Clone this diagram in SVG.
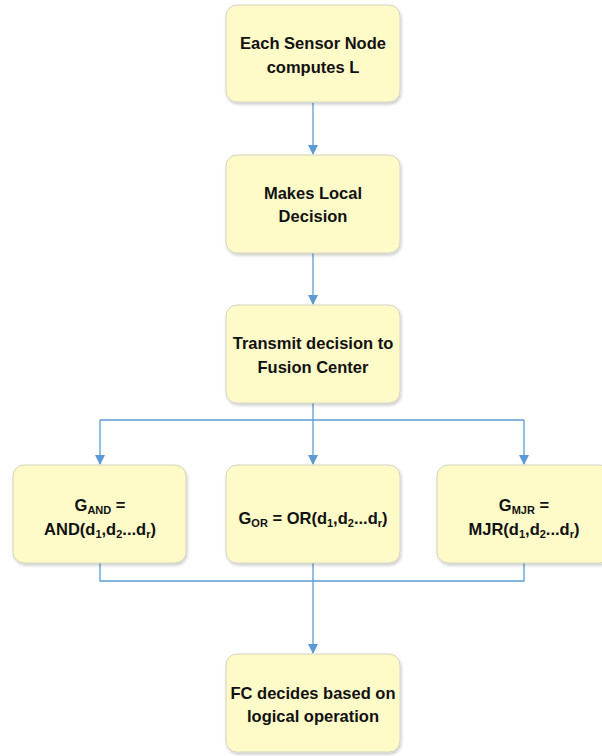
<svg xmlns="http://www.w3.org/2000/svg" width="602" height="756" viewBox="0 0 602 756">
<style>
.box{fill:#FFFBC9;stroke:#D4D2C0;stroke-width:1;filter:url(#sh)}
.t{font-family:"Liberation Sans",Arial,sans-serif;font-weight:bold;font-size:16.5px;fill:#111;text-anchor:middle}
.sub{font-size:11px}
.c{fill:none;stroke:#5B9BD5;stroke-width:1.3}
</style>
<defs>
<filter id="sh" x="-10%" y="-10%" width="130%" height="130%">
<feDropShadow dx="1" dy="2" stdDeviation="1.5" flood-color="#000" flood-opacity="0.2"/>
</filter>
<marker id="a" markerWidth="10" markerHeight="10" refX="9" refY="5" orient="auto" markerUnits="userSpaceOnUse" viewBox="0 0 10 10">
<path d="M0,0 L10,5 L0,10 Z" fill="#5B9BD5"/>
</marker>
</defs>
<rect width="602" height="756" fill="#fff"/>
<g id="connectors">
<path class="c" d="M313,103 V154" marker-end="url(#a)"/>
<path class="c" d="M313,253 V304" marker-end="url(#a)"/>
<path class="c" d="M313,403 V464" marker-end="url(#a)"/>
<path class="c" d="M100,420 H524"/>
<path class="c" d="M100,420 V464" marker-end="url(#a)"/>
<path class="c" d="M524,420 V464" marker-end="url(#a)"/>
<path class="c" d="M100,563 V581 H524 V563"/>
<path class="c" d="M313,563 V653" marker-end="url(#a)"/>
</g>
<g id="n1">
<rect class="box" x="226" y="5" width="174" height="97" rx="11"/>
<text class="t" x="313" y="49">Each Sensor Node</text>
<text class="t" x="313" y="73">computes L</text>
</g>
<g id="n2">
<rect class="box" x="226" y="155" width="174" height="98" rx="11"/>
<text class="t" x="313" y="199">Makes Local</text>
<text class="t" x="313" y="222">Decision</text>
</g>
<g id="n3">
<rect class="box" x="226" y="305" width="174" height="98" rx="11"/>
<text class="t" x="313" y="349">Transmit decision to</text>
<text class="t" x="313" y="373">Fusion Center</text>
</g>
<g id="n4">
<rect class="box" x="13" y="465" width="173" height="98" rx="11"/>
<text class="t" x="100" y="511">G<tspan class="sub" dy="3">AND</tspan><tspan dy="-3"> =</tspan></text>
<text class="t" x="100" y="535">AND(d<tspan class="sub" dy="3">1</tspan><tspan dy="-3">,d</tspan><tspan class="sub" dy="3">2</tspan><tspan dy="-3">...d</tspan><tspan class="sub" dy="3">r</tspan><tspan dy="-3">)</tspan></text>
</g>
<g id="n5">
<rect class="box" x="226" y="465" width="174" height="98" rx="11"/>
<text class="t" x="313" y="524">G<tspan class="sub" dy="3">OR</tspan><tspan dy="-3"> = OR(d</tspan><tspan class="sub" dy="3">1</tspan><tspan dy="-3">,d</tspan><tspan class="sub" dy="3">2</tspan><tspan dy="-3">...d</tspan><tspan class="sub" dy="3">r</tspan><tspan dy="-3">)</tspan></text>
</g>
<g id="n6">
<rect class="box" x="437" y="465" width="174" height="98" rx="11"/>
<text class="t" x="524" y="511">G<tspan class="sub" dy="3">MJR</tspan><tspan dy="-3"> =</tspan></text>
<text class="t" x="524" y="535">MJR(d<tspan class="sub" dy="3">1</tspan><tspan dy="-3">,d</tspan><tspan class="sub" dy="3">2</tspan><tspan dy="-3">...d</tspan><tspan class="sub" dy="3">r</tspan><tspan dy="-3">)</tspan></text>
</g>
<g id="n7">
<rect class="box" x="226" y="654" width="174" height="98" rx="11"/>
<text class="t" x="313" y="699">FC decides based on</text>
<text class="t" x="313" y="722">logical operation</text>
</g>
</svg>
